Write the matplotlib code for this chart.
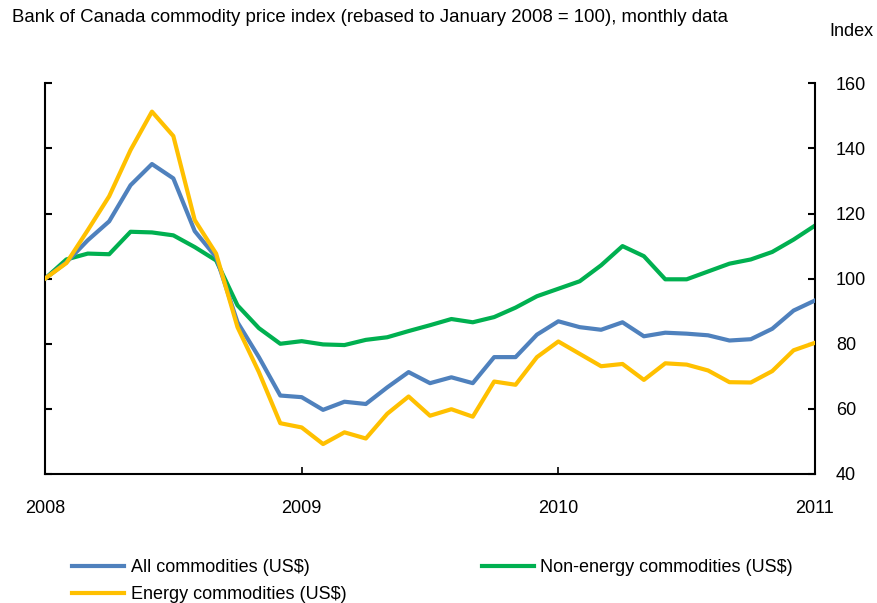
import matplotlib
matplotlib.use("Agg")
import matplotlib.pyplot as plt
import numpy as np

plt.rcParams['font.family'] = ['Liberation Sans', 'DejaVu Sans']

months = np.arange(37)  # Jan 2008 .. Jan 2011
all_comm = [100, 105, 111.8, 117.6, 128.7, 135.2, 130.8, 114.6, 106.6, 86.6, 75.9, 64.1, 63.6,
            59.7, 62.2, 61.5, 66.6, 71.3, 67.9, 69.7, 67.9, 75.9, 75.9, 82.8, 86.9, 85.1,
            84.3, 86.6, 82.3, 83.4, 83.1, 82.6, 81.0, 81.4, 84.6, 90.2, 93.3]
non_energy = [100, 105.9, 107.7, 107.5, 114.4, 114.2, 113.3, 109.7, 105.6, 91.8, 84.8, 80.0, 80.8,
              79.8, 79.6, 81.2, 82.0, 83.9, 85.7, 87.6, 86.6, 88.2, 91.1, 94.6, 96.9, 99.2,
              104.1, 110.0, 106.9, 99.8, 99.8, 102.2, 104.6, 105.9, 108.2, 112.0, 116.3]
energy = [100, 104.8, 114.9, 125.3, 139.5, 151.3, 143.8, 118.0, 107.7, 85.1, 71.3, 55.6, 54.3,
          49.2, 52.8, 50.9, 58.5, 63.8, 57.9, 59.9, 57.6, 68.4, 67.4, 75.9, 80.7, 76.9,
          73.1, 73.8, 68.9, 74.0, 73.6, 71.8, 68.2, 68.1, 71.6, 78.0, 80.3]
year_ticks = [0, 12, 24, 36]
year_labels = ['2008', '2009', '2010', '2011']
y_ticks = [40, 60, 80, 100, 120, 140, 160]

W, H = 878, 603
fig = plt.figure(figsize=(W/100, H/100), dpi=100)
ax = fig.add_axes([45/W, 1-474/H, 770/W, (474-83.3)/H])

lw = 3.0
l1, = ax.plot(months, all_comm, color='#4F81BD', lw=lw, label='All commodities (US$)')
l2, = ax.plot(months, non_energy, color='#00B050', lw=lw, label='Non-energy commodities (US$)')
l3, = ax.plot(months, energy, color='#FFC000', lw=lw, label='Energy commodities (US$)')
l2.set_zorder(2); l1.set_zorder(3); l3.set_zorder(4)

ax.set_xlim(0, 36)
ax.set_ylim(40, 160)
ax.spines['top'].set_visible(False)
for s in ['left', 'right', 'bottom']:
    ax.spines[s].set_linewidth(1.5)
ax.set_xticks(year_ticks)
ax.set_xticklabels(year_labels)
ax.set_yticks(y_ticks)
ax.yaxis.set_ticks_position('both')
ax.tick_params(axis='y', direction='in', length=5, width=1.5, labelleft=False, labelright=True,
               labelsize=13, pad=15)
ax.tick_params(axis='x', direction='in', length=5, width=1.2, labelsize=13, pad=19)

fig.text(12/W, 1-18/H, 'Bank of Canada commodity price index (rebased to January 2008 = 100), monthly data',
         fontsize=13.4, ha='left', va='center')
fig.text(829/W, 1-31/H, 'Index', fontsize=13, ha='left', va='center')

fig.legend(handles=[l1, l3, l2], ncol=2, loc='upper left', bbox_to_anchor=(72/W, 1-559/H),
           frameon=False, fontsize=13, handlelength=2.9, handletextpad=0.35,
           columnspacing=7.5, labelspacing=0.58, borderaxespad=0, borderpad=0)

fig.savefig('out.png', dpi=100)
